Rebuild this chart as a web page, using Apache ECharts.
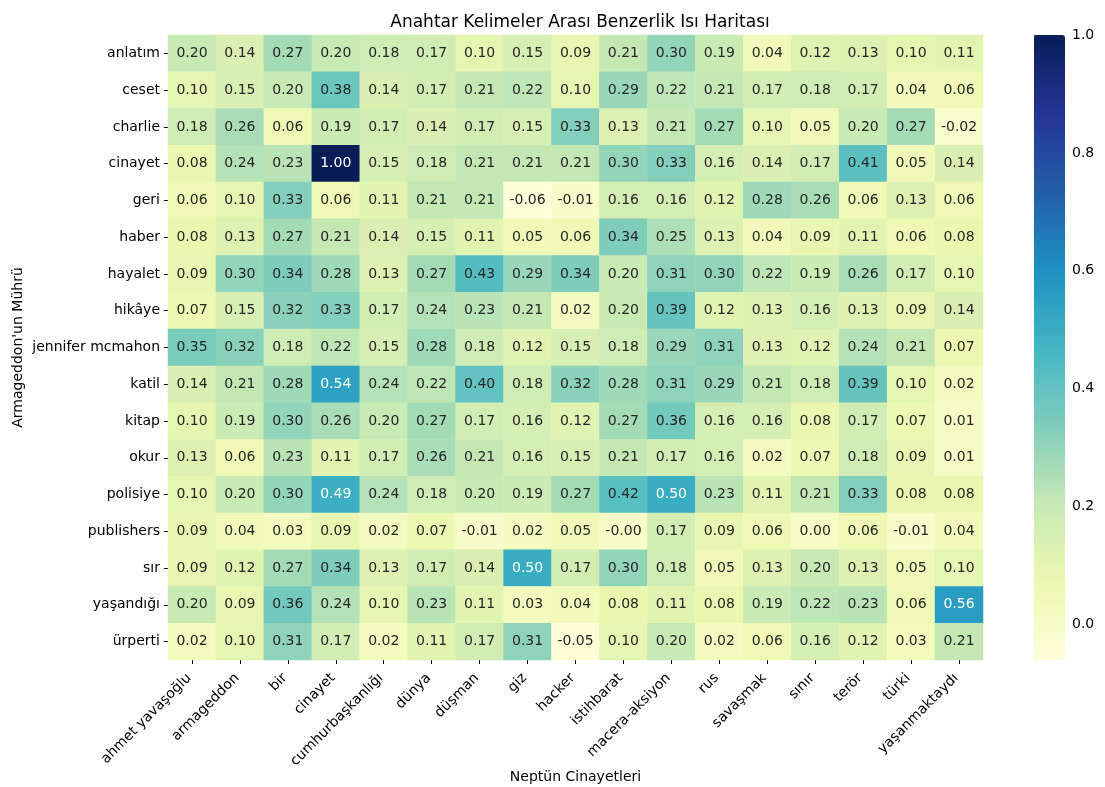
<!DOCTYPE html>
<html>
<head>
<meta charset="utf-8">
<script src="https://cdn.jsdelivr.net/npm/echarts@6/dist/echarts.min.js"></script>
<style>html,body{margin:0;padding:0;background:#fff}#c{width:1105px;height:787px}</style>
</head>
<body>
<div id="c"></div>
<script>
var xCategories = ['ahmet yavaşoğlu','armageddon','bir','cinayet','cumhurbaşkanlığı','dünya','düşman','giz','hacker','istihbarat','macera-aksiyon','rus','savaşmak','sınır','terör','türki','yaşanmaktaydı'];
var yCategories = ['anlatım','ceset','charlie','cinayet','geri','haber','hayalet','hikâye','jennifer mcmahon','katil','kitap','okur','polisiye','publishers','sır','yaşandığı','ürperti'];
var values = [
  [0.20,0.14,0.27,0.20,0.18,0.17,0.10,0.15,0.09,0.21,0.30,0.19,0.04,0.12,0.13,0.10,0.11],
  [0.10,0.15,0.20,0.38,0.14,0.17,0.21,0.22,0.10,0.29,0.22,0.21,0.17,0.18,0.17,0.04,0.06],
  [0.18,0.26,0.06,0.19,0.17,0.14,0.17,0.15,0.33,0.13,0.21,0.27,0.10,0.05,0.20,0.27,-0.02],
  [0.08,0.24,0.23,1.00,0.15,0.18,0.21,0.21,0.21,0.30,0.33,0.16,0.14,0.17,0.41,0.05,0.14],
  [0.06,0.10,0.33,0.06,0.11,0.21,0.21,-0.06,-0.01,0.16,0.16,0.12,0.28,0.26,0.06,0.13,0.06],
  [0.08,0.13,0.27,0.21,0.14,0.15,0.11,0.05,0.06,0.34,0.25,0.13,0.04,0.09,0.11,0.06,0.08],
  [0.09,0.30,0.34,0.28,0.13,0.27,0.43,0.29,0.34,0.20,0.31,0.30,0.22,0.19,0.26,0.17,0.10],
  [0.07,0.15,0.32,0.33,0.17,0.24,0.23,0.21,0.02,0.20,0.39,0.12,0.13,0.16,0.13,0.09,0.14],
  [0.35,0.32,0.18,0.22,0.15,0.28,0.18,0.12,0.15,0.18,0.29,0.31,0.13,0.12,0.24,0.21,0.07],
  [0.14,0.21,0.28,0.54,0.24,0.22,0.40,0.18,0.32,0.28,0.31,0.29,0.21,0.18,0.39,0.10,0.02],
  [0.10,0.19,0.30,0.26,0.20,0.27,0.17,0.16,0.12,0.27,0.36,0.16,0.16,0.08,0.17,0.07,0.01],
  [0.13,0.06,0.23,0.11,0.17,0.26,0.21,0.16,0.15,0.21,0.17,0.16,0.02,0.07,0.18,0.09,0.01],
  [0.10,0.20,0.30,0.49,0.24,0.18,0.20,0.19,0.27,0.42,0.50,0.23,0.11,0.21,0.33,0.08,0.08],
  [0.09,0.04,0.03,0.09,0.02,0.07,-0.01,0.02,0.05,-0.004,0.17,0.09,0.06,0.00,0.06,-0.01,0.04],
  [0.09,0.12,0.27,0.34,0.13,0.17,0.14,0.50,0.17,0.30,0.18,0.05,0.13,0.20,0.13,0.05,0.10],
  [0.20,0.09,0.36,0.24,0.10,0.23,0.11,0.03,0.04,0.08,0.11,0.08,0.19,0.22,0.23,0.06,0.56],
  [0.02,0.10,0.31,0.17,0.02,0.11,0.17,0.31,-0.05,0.10,0.20,0.02,0.06,0.16,0.12,0.03,0.21]
];
var colorbarTicks = [0, 0.2, 0.4, 0.6, 0.8, 1.0];
var vMin = -0.06, vMax = 1.0;

var palette = ['#ffffd9','#edf8b1','#c7e9b4','#7fcdbb','#41b6c4','#1d91c0','#225ea8','#253494','#081d58'];
var FONT = 'DejaVu Sans';

var data = [];
for (var r = 0; r < yCategories.length; r++) {
  for (var c = 0; c < xCategories.length; c++) {
    var v = values[r][c];
    data.push({value: [c, r, v], label: {color: v > 0.46 ? '#ffffff' : '#262626'}});
  }
}

var chart = echarts.init(document.getElementById('c'));
chart.setOption({
  backgroundColor: '#ffffff',
  animation: false,
  title: {
    text: 'Anahtar Kelimeler Arası Benzerlik Isı Haritası',
    left: 575, top: 9, textAlign: 'center',
    textStyle: {fontFamily: FONT, fontSize: 17, fontWeight: 'normal', color: '#000'}
  },
  grid: [
    {left: 168, right: 122, top: 35, bottom: 127, outerBoundsMode: 'none', containLabel: false},
    {left: 1034, width: 31, top: 35, height: 625, outerBoundsMode: 'none', containLabel: false}
  ],
  xAxis: [
    {
      type: 'category', data: xCategories, gridIndex: 0,
      name: 'Neptün Cinayetleri', nameLocation: 'middle', nameGap: 110, nameMoveOverlap: false,
      nameTextStyle: {fontFamily: FONT, fontSize: 14, color: '#000'},
      axisLine: {show: false},
      axisTick: {show: true, alignWithLabel: true, length: 4, lineStyle: {color: '#000'}},
      axisLabel: {rotate: 45, interval: 0, margin: 13, padding: [0, 4, 0, 0], fontFamily: FONT, fontSize: 14, color: '#000'},
      splitLine: {show: false}
    },
    {type: 'value', gridIndex: 1, show: false, min: 0, max: 1}
  ],
  yAxis: [
    {
      type: 'category', data: yCategories, gridIndex: 0, inverse: true,
      name: "Armageddon'un Mührü", nameLocation: 'middle', nameGap: 143, nameRotate: 90, nameMoveOverlap: false,
      nameTextStyle: {fontFamily: FONT, fontSize: 14, color: '#000'},
      axisLine: {show: false},
      axisTick: {show: true, alignWithLabel: true, length: 4, lineStyle: {color: '#000'}},
      axisLabel: {interval: 0, margin: 8, fontFamily: FONT, fontSize: 14, color: '#000'},
      splitLine: {show: false}
    },
    {
      type: 'value', gridIndex: 1, position: 'right', min: vMin, max: vMax,
      axisLine: {show: false},
      axisTick: {show: true, length: 4, customValues: colorbarTicks, lineStyle: {color: '#000'}},
      axisLabel: {margin: 7, customValues: colorbarTicks, fontFamily: FONT, fontSize: 14, color: '#000',
        formatter: function (v) { return v.toFixed(1); }},
      splitLine: {show: false}
    }
  ],
  visualMap: {
    type: 'continuous', min: vMin, max: vMax, seriesIndex: 0,
    left: 1034, top: 35, itemWidth: 31, itemHeight: 625, padding: 0,
    calculable: false, text: null, showLabel: false,
    inRange: {color: palette}
  },
  series: [{
    type: 'heatmap', xAxisIndex: 0, yAxisIndex: 0, data: data,
    label: {show: true, fontFamily: FONT, fontSize: 14,
      formatter: function (p) { return p.value[2].toFixed(2); }},
    itemStyle: {borderWidth: 0},
    emphasis: {disabled: true}
  }]
});
</script>
</body>
</html>
